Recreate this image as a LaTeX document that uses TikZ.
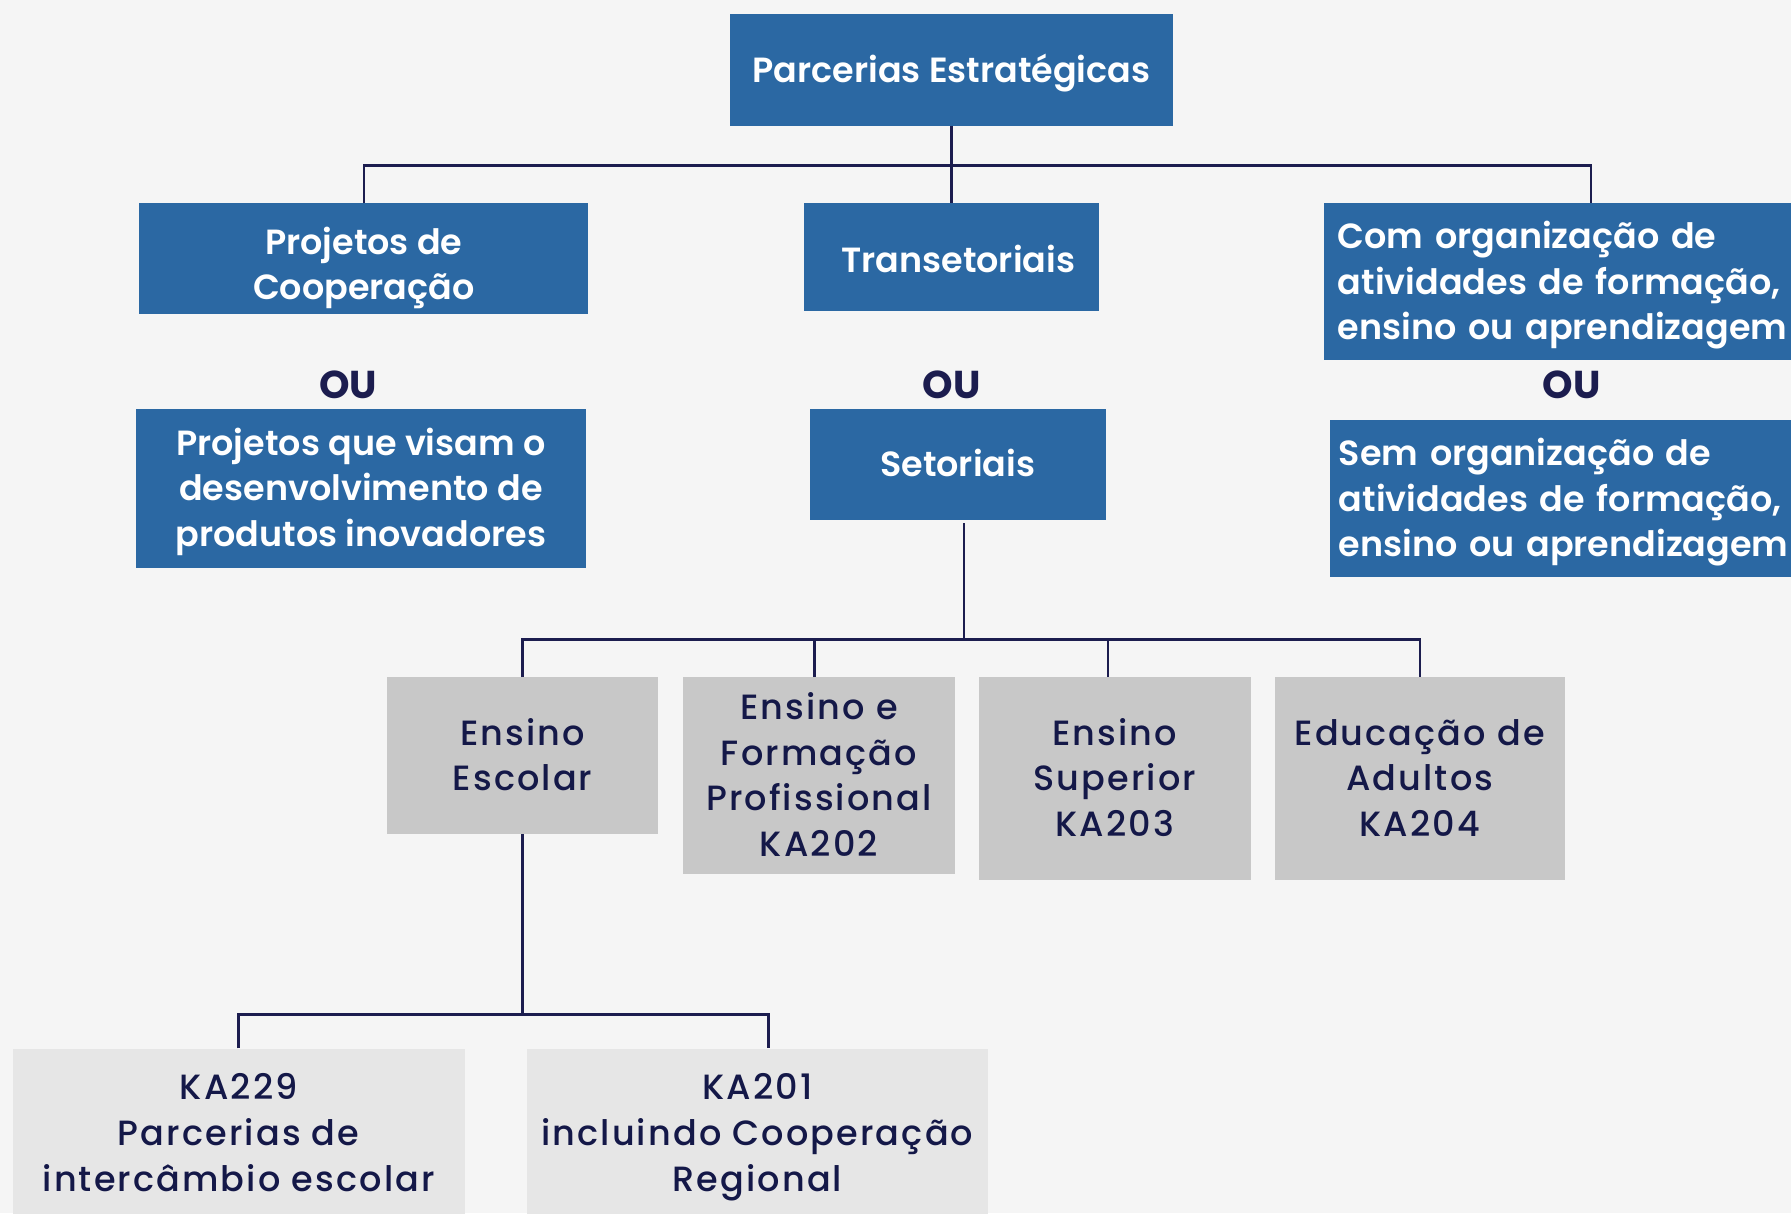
\documentclass[tikz,border=0pt]{standalone}
\usepackage{fontspec}
\setmainfont{Poppins}
\newfontfamily\semibold{Poppins SemiBold}
\newfontfamily\medium{Poppins Medium}[LetterSpace=6]
\usepackage{tikz}
\definecolor{bgcol}{HTML}{F5F5F5}
\definecolor{boxblue}{HTML}{2B68A3}
\definecolor{boxgrey}{HTML}{C8C8C8}
\definecolor{boxlight}{HTML}{E6E6E6}
\definecolor{navy}{HTML}{1C1D4F}
\definecolor{textnavy}{HTML}{141848}
\tikzset{
	nlines/.style={text height={(#1-1)*40pt+25pt},text depth=3pt},
	ntop/.style={text height=25pt,text depth={(#1-1)*40pt+3pt}},
	bluebox/.style={fill=boxblue,text=white,align=center,inner sep=0pt,
		font=\semibold\fontsize{30.6}{40}\selectfont},
	greybox/.style={fill=boxgrey,text=textnavy,align=center,inner sep=0pt,
		font=\medium\fontsize{30.7}{40}\selectfont},
	lightbox/.style={greybox,fill=boxlight},
	oulabel/.style={text=navy,font=\fontsize{34}{40}\selectfont\bfseries},
	tree/.style={draw=navy,line width=2.2pt}
}

\begin{document}
\begin{tikzpicture}[x=1pt,y=-1pt]
	\fill[bgcol] (0,0) rectangle (1568,1062);
	\clip (0,0) rectangle (1568,1062);
	% first level
	\node[bluebox,nlines=1,minimum width=388,minimum height=98] (top) at (833,61)
		{Parcerias Estratégicas};
	\node[bluebox,nlines=2,text height=75pt,minimum width=393,minimum height=97] (coop) at (318.5,226.5)
		{Projetos de\\Cooperação};
	\node[bluebox,nlines=1,text height=31pt,minimum width=258,minimum height=94] (trans) at (833,225)
		{\hspace*{12pt}Transetoriais};
	\node[bluebox,ntop=3,anchor=west,align=left,text width=420,inner xsep=12,minimum height=137] (com) at (1159,246.5)
		{Com organização de\\atividades de formação,\\ensino ou aprendizagem};
	\foreach \x/\n in {305/ou1,833/ou2,1376/ou3}{
		\node[oulabel] (\n) at (\x,337) {OU};
	}
	\node[bluebox,nlines=3,minimum width=394,minimum height=139] (inov) at (316,427.5)
		{Projetos que visam o\\desenvolvimento de\\produtos inovadores};
	\node[bluebox,nlines=1,minimum width=259,minimum height=97] (setor) at (838.5,406.5)
		{Setoriais};
	\node[bluebox,ntop=3,anchor=west,align=left,text width=420,inner xsep=8,minimum height=137] (sem) at (1164,436.5)
		{Sem organização de\\atividades de formação,\\ensino ou aprendizagem};
	\coordinate (j1) at (833,145);
	\coordinate (comin) at (1393,178);
	\draw[tree] (top.south) -- (trans.north);
	\draw[tree] (coop.north) |- (j1) -| (comin);
	% sectors
	\node[greybox,nlines=2,minimum width=237,minimum height=137] (esc) at (457.5,661.5)
		{Ensino\\Escolar};
	\node[greybox,nlines=4,minimum width=238,minimum height=172] (ka202) at (717,679)
		{Ensino e\\Formação\\Profissional\\KA202};
	\node[greybox,nlines=3,minimum width=238,minimum height=177] (ka203) at (976,681.5)
		{Ensino\\Superior\\KA203};
	\node[greybox,nlines=3,minimum width=254,minimum height=177] (ka204) at (1243,681.5)
		{Educação de\\Adultos\\KA204};
	\coordinate (j2) at (844,560);
	\draw[tree] ([xshift=5.5pt,yshift=-3pt]setor.south) -- (j2);
	\draw[tree] (esc.north) |- (j2) -| (ka204.north);
	\draw[tree] ([xshift=-4pt]ka202.north) -- ([xshift=-4pt]ka202.north |- j2);
	\draw[tree] ([xshift=-6pt]ka203.north) -- ([xshift=-6pt]ka203.north |- j2);
	% school education
	\node[lightbox,nlines=3,minimum width=396,minimum height=148] (ka229) at (209,992)
		{KA229\\Parcerias de\\intercâmbio escolar};
	\node[lightbox,nlines=3,minimum width=404,minimum height=148] (ka201) at (663,992)
		{KA201\\incluindo Cooperação\\Regional};
	\coordinate (j3) at (457.5,888);
	\draw[tree] (esc.south) -- (j3);
	\draw[tree] (ka229.north) |- (j3) -| ([xshift=10pt]ka201.north);
\end{tikzpicture}
\end{document}
